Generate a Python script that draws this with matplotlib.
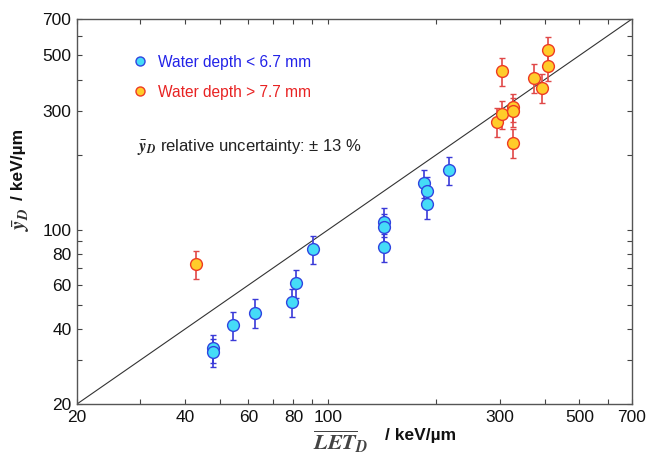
# yD vs LET_D, log-log with y = x line

import numpy as np
import matplotlib.pyplot as plt
from matplotlib.lines import Line2D
from matplotlib.ticker import FixedLocator, FixedFormatter, NullFormatter

plt.rcParams['font.family'] = ['Liberation Sans', 'DejaVu Sans']
plt.rcParams['mathtext.fontset'] = 'stix'

# data
let_shallow = [47.9, 47.9, 54.2, 62.6, 79.3, 81.5, 90.9,
               143.2, 143.2, 143.2, 185.1, 188.7, 188.7, 216.4]
yd_shallow = [33.5, 32.3, 41.5, 46.5, 51.2, 61.0, 83.5,
              107.7, 102.3, 85.0, 153.6, 143.4, 126.5, 173.6]

let_deep = [42.8, 303.9, 295.4, 303.9, 327.4, 327.4, 327.4,
            373.8, 392.6, 408.0, 408.0]
yd_deep = [72.7, 433.3, 271.4, 291.2, 310.0, 298.0, 223.4,
           407.4, 371.4, 526.0, 453.8]

rel_unc = 0.13  # stated relative uncertainty

major_ticks = [20, 40, 60, 80, 100, 300, 500, 700]
minor_ticks = [30, 50, 70, 90, 200, 400, 600]
diag = [20, 700]

W, H = 649, 458
fig = plt.figure(figsize=(W / 100, H / 100), dpi=100)
ax = fig.add_axes([77 / W, 54 / H, 555 / W, 385 / H])

ax.plot(diag, diag, color='#333333', lw=0.8, zorder=1)

ax.errorbar(let_shallow, yd_shallow, yerr=rel_unc * np.array(yd_shallow),
            fmt='o', ms=8.5, mfc='#45dcf7', mec='#2f45e0', mew=1.0,
            ecolor='#3a3ad8', elinewidth=1.2, capsize=2, capthick=1.0, zorder=3)
ax.errorbar(let_deep, yd_deep, yerr=rel_unc * np.array(yd_deep),
            fmt='o', ms=8.5, mfc='#ffcc2a', mec='#ee3b22', mew=1.0,
            ecolor='#e04848', elinewidth=1.2, capsize=2, capthick=1.0, zorder=3)

ax.set_xscale('log')
ax.set_yscale('log')
ax.set_xlim(20, 700)
ax.set_ylim(20, 700)

for axis in (ax.xaxis, ax.yaxis):
    axis.set_major_locator(FixedLocator(major_ticks))
    axis.set_major_formatter(FixedFormatter([str(t) for t in major_ticks]))
    axis.set_minor_locator(FixedLocator(minor_ticks))
    axis.set_minor_formatter(NullFormatter())

ax.tick_params(which='both', direction='in', top=True, right=True,
               length=3.5, width=0.8, color='#444444', labelsize=12.5,
               labelcolor='#111111', pad=4)
for s in ax.spines.values():
    s.set_color('#555555')
    s.set_linewidth(1.0)

# axis titles, math part in serif bold italic, units in bold sans
fig.text(313 / W, 1 - 450 / H, r'$\overline{\mathbfit{LET}}_{\mathbfit{D}}$',
         fontsize=16, color='#444444', ha='left', va='baseline')
fig.text(385 / W, 1 - 440 / H, '/ keV/µm', fontsize=12.5, fontweight='bold',
         color='#111111', ha='left', va='baseline')
fig.text(21 / W, 1 - 219 / H, r'$\bar{\mathbfit{y}}_{\mathbfit{D}}$',
         fontsize=15, color='#333333', rotation=90, ha='center', va='center')
fig.text(19 / W, 1 - 164 / H, '/ keV/µm', fontsize=12.5, fontweight='bold',
         color='#111111', rotation=90, ha='center', va='center')

handles = [
    Line2D([], [], ls='none', marker='o', ms=6.5, mfc='#45dcf7', mec='#2f45e0'),
    Line2D([], [], ls='none', marker='o', ms=6.5, mfc='#ffcc2a', mec='#ee3b22'),
]
ax.legend(handles, ['Water depth < 6.7 mm', 'Water depth > 7.7 mm'],
          loc='upper left', bbox_to_anchor=(0.085, 0.927), frameon=False,
          fontsize=11.2, labelcolor=['#2323e8', '#e82323'],
          handlelength=1.0, handletextpad=0.7, labelspacing=0.95, borderpad=0)

ax.text(0.108, 0.667, r'$\bar{\mathbfit{y}}_{\mathbfit{D}}$ relative uncertainty: ± 13 %',
        transform=ax.transAxes, fontsize=12, color='#222222', va='center')

fig.savefig('out.png', dpi=100)
